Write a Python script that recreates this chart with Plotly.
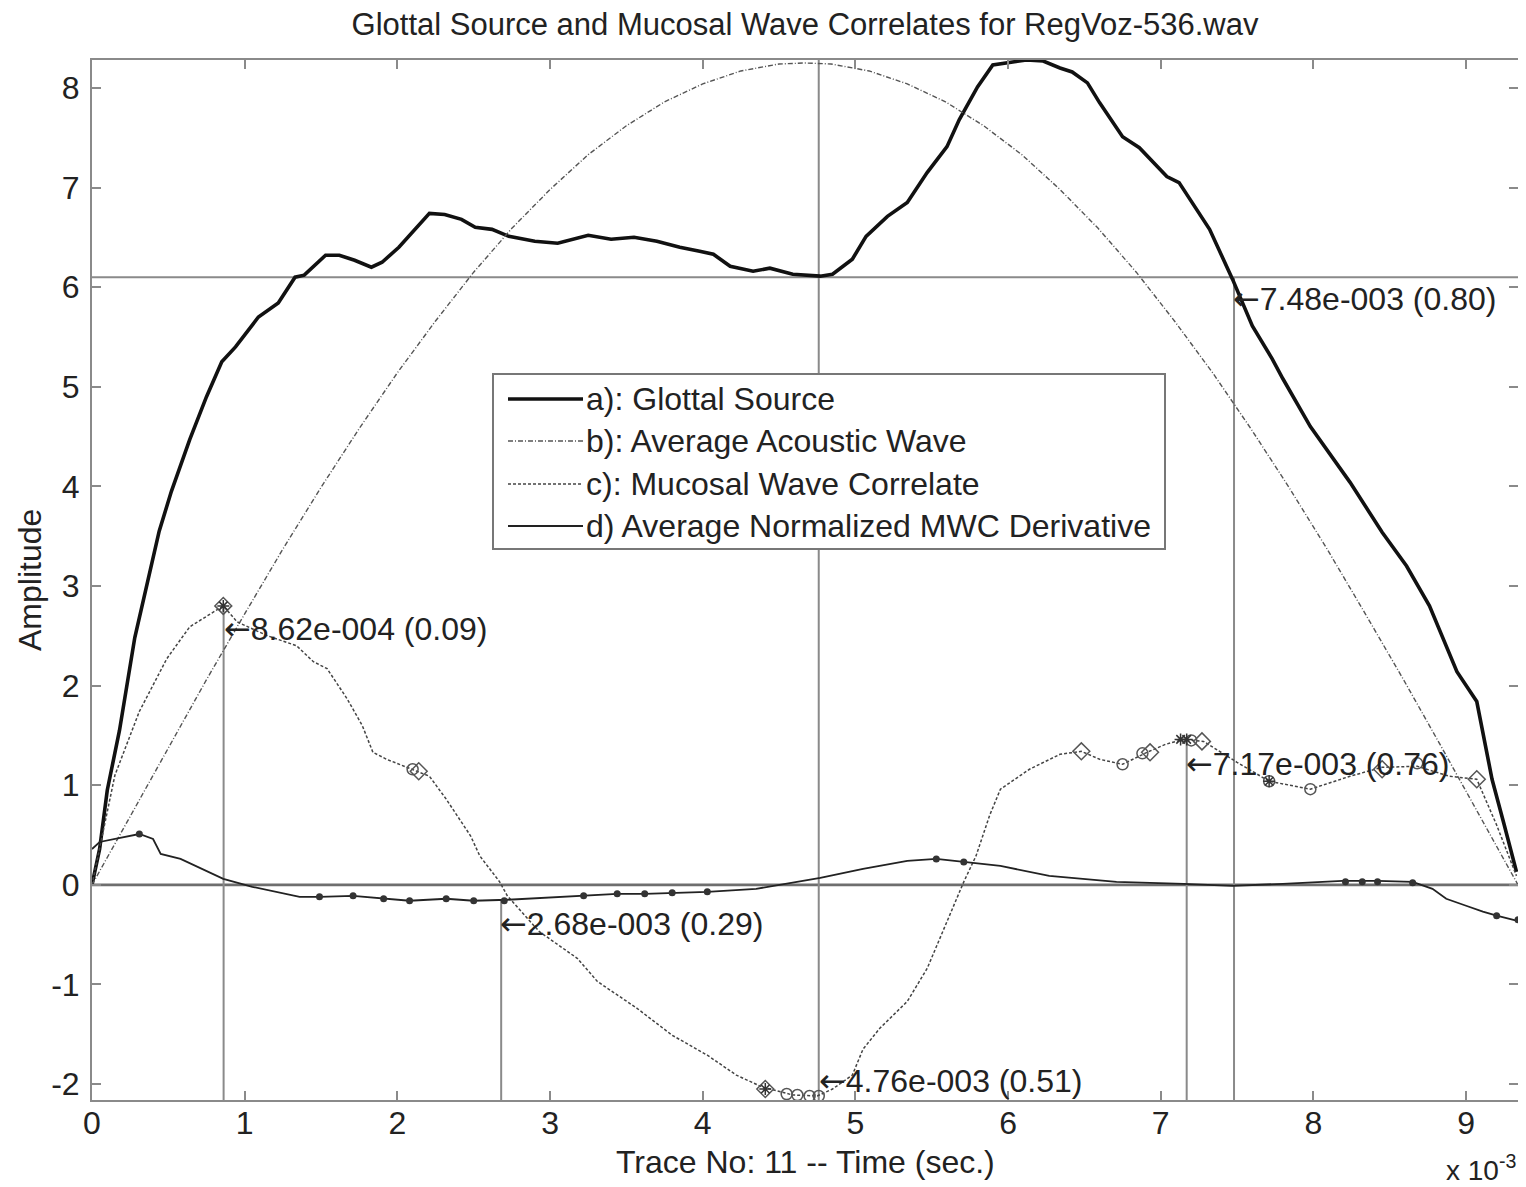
import plotly.graph_objects as go

# x values are in units of 1e-3 s (axis shows "x 10^-3")
glottal_x = [0, 0.05, 0.10, 0.18, 0.28, 0.40, 0.44, 0.52, 0.64, 0.75, 0.85, 0.94, 1.09, 1.22, 1.33, 1.39,
             1.53, 1.62, 1.72, 1.83, 1.90, 2.01, 2.10, 2.21, 2.31, 2.42, 2.51, 2.62, 2.73, 2.90, 3.05, 3.25,
             3.40, 3.55, 3.70, 3.85, 3.98, 4.07, 4.18, 4.33, 4.44, 4.59, 4.77, 4.85, 4.98, 5.07, 5.21, 5.34,
             5.47, 5.60, 5.68, 5.80, 5.90, 5.99, 6.12, 6.23, 6.34, 6.42, 6.52, 6.60, 6.75, 6.86, 7.04, 7.12,
             7.32, 7.47, 7.60, 7.73, 7.80, 7.98, 8.24, 8.45, 8.61, 8.76, 8.94, 9.07, 9.12, 9.17, 9.25, 9.33]
glottal_y = [0, 0.36, 0.95, 1.55, 2.48, 3.27, 3.55, 3.95, 4.47, 4.90, 5.25, 5.40, 5.70, 5.84, 6.10, 6.12,
             6.32, 6.32, 6.27, 6.20, 6.25, 6.40, 6.55, 6.74, 6.73, 6.68, 6.60, 6.58, 6.51, 6.46, 6.44, 6.52,
             6.48, 6.50, 6.46, 6.40, 6.36, 6.33, 6.21, 6.16, 6.19, 6.13, 6.11, 6.13, 6.28, 6.51, 6.71, 6.85,
             7.15, 7.41, 7.68, 8.01, 8.23, 8.25, 8.28, 8.27, 8.20, 8.16, 8.05, 7.85, 7.51, 7.40, 7.11, 7.05,
             6.58, 6.08, 5.61, 5.28, 5.08, 4.60, 4.04, 3.54, 3.20, 2.80, 2.14, 1.84, 1.46, 1.06, 0.60, 0.13]

acoustic_x = [0, 0.25, 0.5, 0.75, 1.0, 1.25, 1.5, 1.75, 2.0, 2.25, 2.5, 2.75, 3.0, 3.25, 3.5, 3.75, 4.0,
              4.25, 4.5, 4.67, 4.84, 5.09, 5.34, 5.59, 5.84, 6.09, 6.34, 6.59, 6.84, 7.09, 7.34, 7.59,
              7.84, 8.09, 8.34, 8.59, 8.84, 9.09, 9.34]
acoustic_y = [0, 0.69, 1.38, 2.06, 2.72, 3.37, 3.99, 4.58, 5.14, 5.66, 6.15, 6.59, 6.98, 7.33, 7.62, 7.86,
              8.04, 8.17, 8.24, 8.25, 8.24, 8.17, 8.04, 7.86, 7.62, 7.33, 6.98, 6.59, 6.15, 5.66, 5.14,
              4.58, 3.99, 3.37, 2.72, 2.06, 1.38, 0.69, 0]

mucosal_x = [0, 0.05, 0.15, 0.31, 0.49, 0.64, 0.86, 0.95, 1.15, 1.34, 1.45, 1.54, 1.67, 1.77, 1.84, 1.93,
             2.10, 2.21, 2.32, 2.48, 2.54, 2.67, 2.72, 2.93, 3.18, 3.31, 3.57, 3.80, 4.03, 4.22, 4.39,
             4.59, 4.75, 4.85, 4.98, 5.05, 5.16, 5.34, 5.47, 5.60, 5.71, 5.79, 5.88, 5.95, 6.14, 6.34,
             6.48, 6.60, 6.75, 6.91, 7.03, 7.15, 7.28, 7.50, 7.71, 7.98, 8.24, 8.45, 8.68, 8.89, 9.07,
             9.20, 9.33]
mucosal_y = [0.0, 0.36, 1.10, 1.74, 2.27, 2.59, 2.80, 2.64, 2.50, 2.40, 2.24, 2.17, 1.87, 1.60, 1.33, 1.26,
             1.16, 1.09, 0.86, 0.49, 0.29, 0.03, -0.11, -0.47, -0.74, -0.97, -1.24, -1.51, -1.71, -1.91,
             -2.03, -2.11, -2.12, -2.05, -1.91, -1.65, -1.44, -1.17, -0.84, -0.37, 0.03, 0.29, 0.70, 0.96,
             1.16, 1.31, 1.34, 1.26, 1.21, 1.33, 1.41, 1.46, 1.44, 1.23, 1.04, 0.96, 1.09, 1.18, 1.19,
             1.09, 1.06, 0.60, 0.09]

deriv_x = [0, 0.05, 0.31, 0.40, 0.45, 0.58, 0.86, 1.05, 1.36, 1.49, 1.71, 1.91, 2.08, 2.32, 2.50, 2.72,
           3.22, 3.44, 3.62, 3.80, 4.03, 4.35, 4.62, 4.77, 5.05, 5.34, 5.53, 5.71, 5.95, 6.27, 6.71, 7.15,
           7.47, 7.80, 8.19, 8.42, 8.65, 8.78, 8.87, 9.00, 9.11, 9.20, 9.33]
deriv_y = [0.36, 0.43, 0.51, 0.46, 0.31, 0.26, 0.06, -0.02, -0.12, -0.12, -0.11, -0.14, -0.16, -0.14, -0.16,
           -0.15, -0.11, -0.09, -0.09, -0.08, -0.07, -0.04, 0.03, 0.07, 0.16, 0.24, 0.26, 0.23, 0.19, 0.09,
           0.03, 0.01, -0.01, 0.01, 0.04, 0.04, 0.03, -0.04, -0.14, -0.21, -0.27, -0.31, -0.36]

# markers on curve c
mc_circle_x = [2.10, 4.55, 4.62, 4.70, 4.76, 6.75, 6.88, 7.20, 7.71, 7.98, 8.68]
mc_circle_y = [1.16, -2.10, -2.11, -2.12, -2.12, 1.21, 1.32, 1.45, 1.04, 0.96, 1.22]
mc_diamond_x = [0.86, 2.14, 4.41, 6.48, 6.93, 7.27, 8.45, 9.07]
mc_diamond_y = [2.80, 1.14, -2.05, 1.34, 1.33, 1.44, 1.16, 1.06]
mc_star_x = [0.86, 4.41, 7.13, 7.17, 7.71]
mc_star_y = [2.80, -2.05, 1.46, 1.46, 1.04]

# markers on curve d
md_x = [0.31, 1.49, 1.71, 1.91, 2.08, 2.32, 2.50, 2.70, 3.22, 3.44, 3.62, 3.80, 4.03, 5.53, 5.71,
        8.21, 8.32, 8.42, 8.65, 9.20, 9.34]
md_y = [0.51, -0.12, -0.11, -0.14, -0.16, -0.14, -0.16, -0.16, -0.11, -0.09, -0.09, -0.08, -0.07, 0.26,
        0.23, 0.03, 0.03, 0.03, 0.02, -0.31, -0.35]

# reference cursor lines
vline_x = [0.862, 2.68, 4.76, 7.17, 7.48]
vline_top = [2.80, -0.16, 8.28, 1.46, 6.10]
hline_y = [0.0, 6.10]

# cursor labels
label_x = [0.85, 2.66, 4.75, 7.15, 7.46]
label_y = [2.57, -0.39, -1.97, 1.21, 5.88]
label_text = ["8.62e-004 (0.09)", "2.68e-003 (0.29)", "4.76e-003 (0.51)",
              "7.17e-003 (0.76)", "7.48e-003 (0.80)"]

legend_names = ["a): Glottal Source", "b): Average Acoustic Wave",
                "c): Mucosal Wave Correlate", "d) Average Normalized MWC Derivative"]

x_min, x_max = 0, 9.34
y_min, y_max = -2.16, 8.28
xticks = [0, 1, 2, 3, 4, 5, 6, 7, 8, 9]
yticks = [-2, -1, 0, 1, 2, 3, 4, 5, 6, 7, 8]

FONT = "Liberation Sans, Arial, Helvetica, sans-serif"
FS = 32
REF = "#8a8a8a"
TXT = "#222222"

# page body has an 8px default margin; figure sized to fit the 1526x1187 window
W, H = 1518, 1179
ML, MR, MT, MB = 84, 8, 52, 87
PW, PH = W - ML - MR, H - MT - MB


def px_x(px):  # screen px -> paper x
    return (px - 8 - ML) / PW


def px_y(py):  # screen px -> paper y
    return (H - MB - (py - 8)) / PH


styles = [dict(color="#111111", width=3.6),
          dict(color="#555555", width=1.4, dash="5px,2px,1px,2px"),
          dict(color="#444444", width=1.5, dash="3px,2px"),
          dict(color="#222222", width=1.8)]

fig = go.Figure()

for y in hline_y:
    fig.add_trace(go.Scatter(x=[x_min, x_max], y=[y, y], mode="lines",
                             line=dict(color="#6e6e6e" if y == 0 else REF, width=2.6 if y == 0 else 2),
                             showlegend=False, hoverinfo="skip"))
for xv, top in zip(vline_x, vline_top):
    fig.add_trace(go.Scatter(x=[xv, xv], y=[y_min, top], mode="lines",
                             line=dict(color=REF, width=2), showlegend=False, hoverinfo="skip"))

series = [(glottal_x, glottal_y), (acoustic_x, acoustic_y), (mucosal_x, mucosal_y), (deriv_x, deriv_y)]
for (sx, sy), name, st in zip(series, legend_names, styles):
    fig.add_trace(go.Scatter(x=sx, y=sy, mode="lines", name=name, line=st, showlegend=False))

fig.add_trace(go.Scatter(x=mc_circle_x, y=mc_circle_y, mode="markers", showlegend=False,
                         marker=dict(symbol="circle-open", size=11, color="#555555", line=dict(width=1.5))))
fig.add_trace(go.Scatter(x=mc_diamond_x, y=mc_diamond_y, mode="markers", showlegend=False,
                         marker=dict(symbol="diamond-open", size=13, color="#555555", line=dict(width=1.5))))
fig.add_trace(go.Scatter(x=mc_star_x, y=mc_star_y, mode="markers", showlegend=False,
                         marker=dict(symbol="asterisk-open", size=10, color="#333333", line=dict(width=1.5))))
fig.add_trace(go.Scatter(x=md_x, y=md_y, mode="markers", showlegend=False,
                         marker=dict(symbol="circle", size=7, color="#333333")))

ARROW = "<span style=\"font-family:'DejaVu Sans'\">\u2190</span>"
for lx, ly, lt in zip(label_x, label_y, label_text):
    fig.add_annotation(x=lx, y=ly, text=ARROW + lt, showarrow=False, xanchor="left", yanchor="middle",
                       font=dict(family=FONT, size=FS, color=TXT))

# legend box (drawn manually to get MATLAB-like long line samples)
fig.add_shape(type="rect", xref="paper", yref="paper", x0=px_x(493), x1=px_x(1165),
              y0=px_y(549), y1=px_y(374), line=dict(color="#777777", width=2), fillcolor="white",
              layer="above")
row_py = [399, 441, 484, 526]
for name, st, rp in zip(legend_names, styles, row_py):
    fig.add_shape(type="line", xref="paper", yref="paper", x0=px_x(508), x1=px_x(583),
                  y0=px_y(rp), y1=px_y(rp), line=st, layer="above")
    fig.add_annotation(xref="paper", yref="paper", x=px_x(584), y=px_y(rp), text=name,
                       showarrow=False, xanchor="left", yanchor="middle",
                       font=dict(family=FONT, size=FS, color=TXT))

fig.add_annotation(xref="paper", yref="paper", x=0.5, y=px_y(1162), text="Trace No: 11 -- Time (sec.)",
                   showarrow=False, xanchor="center", yanchor="middle",
                   font=dict(family=FONT, size=FS, color=TXT))
fig.add_annotation(xref="paper", yref="paper", x=px_x(30), y=px_y(580), text="Amplitude", textangle=-90,
                   showarrow=False, xanchor="center", yanchor="middle",
                   font=dict(family=FONT, size=FS, color=TXT))
fig.add_annotation(xref="paper", yref="paper", x=1.0, y=px_y(1168), text="x 10<sup>-3</sup>",
                   showarrow=False, xanchor="right", yanchor="middle",
                   font=dict(family=FONT, size=28, color=TXT))

axis_common = dict(showline=True, linecolor="#8a8a8a", linewidth=2, mirror="ticks", ticks="inside",
                   ticklen=9, tickwidth=1.5, tickcolor="#8a8a8a", showgrid=False, zeroline=False,
                   automargin=False, tickfont=dict(family=FONT, size=FS, color=TXT))

fig.update_layout(
    width=W, height=H,
    margin=dict(l=ML, r=MR, t=MT, b=MB),
    paper_bgcolor="white", plot_bgcolor="white",
    title=dict(text="Glottal Source and Mucosal Wave Correlates for RegVoz-536.wav",
               x=0.5, xref="paper", y=1 - 16 / H, yanchor="middle",
               font=dict(family=FONT, size=31, color=TXT)),
    xaxis=dict(range=[x_min, x_max], tickvals=xticks, ticktext=[str(t) for t in xticks],
               ticklabelstandoff=-6, **axis_common),
    yaxis=dict(range=[y_min, y_max], tickvals=yticks, ticktext=[str(t) for t in yticks],
               ticklabelstandoff=4, **axis_common),
    showlegend=False,
)

fig.write_html("out.html")
